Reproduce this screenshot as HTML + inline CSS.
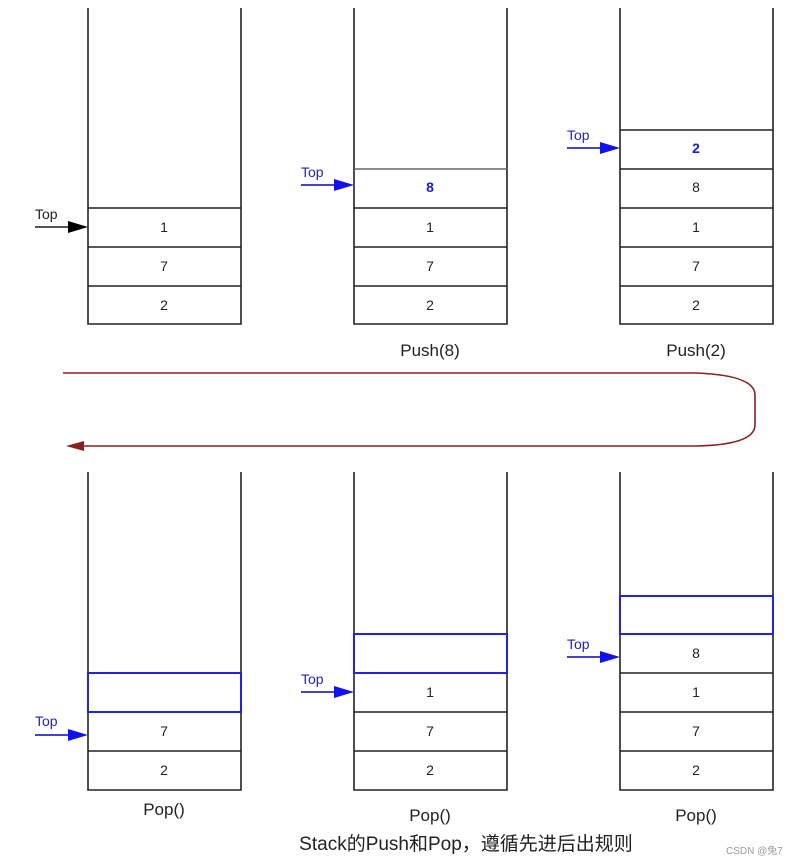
<!DOCTYPE html>
<html><head><meta charset="utf-8"><style>
html,body{margin:0;padding:0;background:#fff;}
svg{display:block;}
text{font-family:"Liberation Sans","Noto Sans CJK SC",sans-serif;}
</style></head><body>
<svg width="795" height="865" viewBox="0 0 795 865" xmlns="http://www.w3.org/2000/svg">
<g stroke="#222" stroke-width="1.6" fill="none">
<path d="M88 8V324H241V8"/>
<path d="M88 208H241M88 247H241M88 286H241"/>
<path d="M354 8V324H507V8"/>
<path d="M354 208H507M354 247H507M354 286H507"/>
<path d="M354 169H507" stroke="#666"/>
<path d="M620 8V324H773V8"/>
<path d="M620 130H773M620 169H773M620 208H773M620 247H773M620 286H773"/>
<path d="M88 472V790H241V472"/>
<path d="M88 751H241M88 712H241"/>
<path d="M354 472V790H507V472"/>
<path d="M354 751H507M354 712H507M354 673H507"/>
<path d="M620 472V790H773V472"/>
<path d="M620 751H773M620 712H773M620 673H773M620 634H773"/>
</g>
<g stroke="#2323e0" stroke-width="2" fill="none">
<rect x="88" y="673" width="153" height="39"/>
<rect x="354" y="634" width="153" height="39"/>
<rect x="620" y="596" width="153" height="38"/>
</g>
<g font-size="14" fill="#222" text-anchor="middle">
<text x="164" y="232">1</text><text x="164" y="271">7</text><text x="164" y="310">2</text>
<text x="430" y="192" fill="#1a1ad0" font-weight="bold">8</text>
<text x="430" y="232">1</text><text x="430" y="271">7</text><text x="430" y="310">2</text>
<text x="696" y="153" fill="#1a1ad0" font-weight="bold">2</text>
<text x="696" y="192">8</text><text x="696" y="232">1</text><text x="696" y="271">7</text><text x="696" y="310">2</text>
<text x="164" y="736">7</text><text x="164" y="775">2</text>
<text x="430" y="697">1</text><text x="430" y="736">7</text><text x="430" y="775">2</text>
<text x="696" y="658">8</text><text x="696" y="697">1</text><text x="696" y="736">7</text><text x="696" y="775">2</text>
<text x="430" y="356" font-size="17">Push(8)</text>
<text x="696" y="356" font-size="17">Push(2)</text>
<text x="164" y="815" font-size="17">Pop()</text>
<text x="430" y="821" font-size="17">Pop()</text>
<text x="696" y="821" font-size="17">Pop()</text>
</g>
<g font-size="14">
<text x="35" y="219" fill="#222">Top</text>
<path d="M35 227H70" stroke="#555" stroke-width="2"/><path d="M68 221L88 227L68 233Z" fill="#000"/>
<text x="301" y="177" fill="#2323c0">Top</text>
<path d="M301 185H336" stroke="#4444d0" stroke-width="2"/><path d="M334 179L354 185L334 191Z" fill="#1010f0"/>
<text x="567" y="140" fill="#2323c0">Top</text>
<path d="M567 148H602" stroke="#4444d0" stroke-width="2"/><path d="M600 142L620 148L600 154Z" fill="#1010f0"/>
<text x="35" y="726" fill="#2323c0">Top</text>
<path d="M35 735H70" stroke="#4444d0" stroke-width="2"/><path d="M68 729L88 735L68 741Z" fill="#1010f0"/>
<text x="301" y="684" fill="#2323c0">Top</text>
<path d="M301 692H336" stroke="#4444d0" stroke-width="2"/><path d="M334 686L354 692L334 698Z" fill="#1010f0"/>
<text x="567" y="649" fill="#2323c0">Top</text>
<path d="M567 657H602" stroke="#4444d0" stroke-width="2"/><path d="M600 651L620 657L600 663Z" fill="#1010f0"/>
</g>
<path d="M63 373H695Q755 375 755 395V425Q755 445 695 446H82" stroke="#8b2020" stroke-width="1.6" fill="none"/>
<path d="M66 446L84 441L84 451Z" fill="#8b2020"/>
<text x="466" y="850" font-size="19" fill="#222" text-anchor="middle">Stack的Push和Pop，遵循先进后出规则</text>
<text x="726" y="854" font-size="10" fill="#999">CSDN @兔7</text>
</svg>
</body></html>
